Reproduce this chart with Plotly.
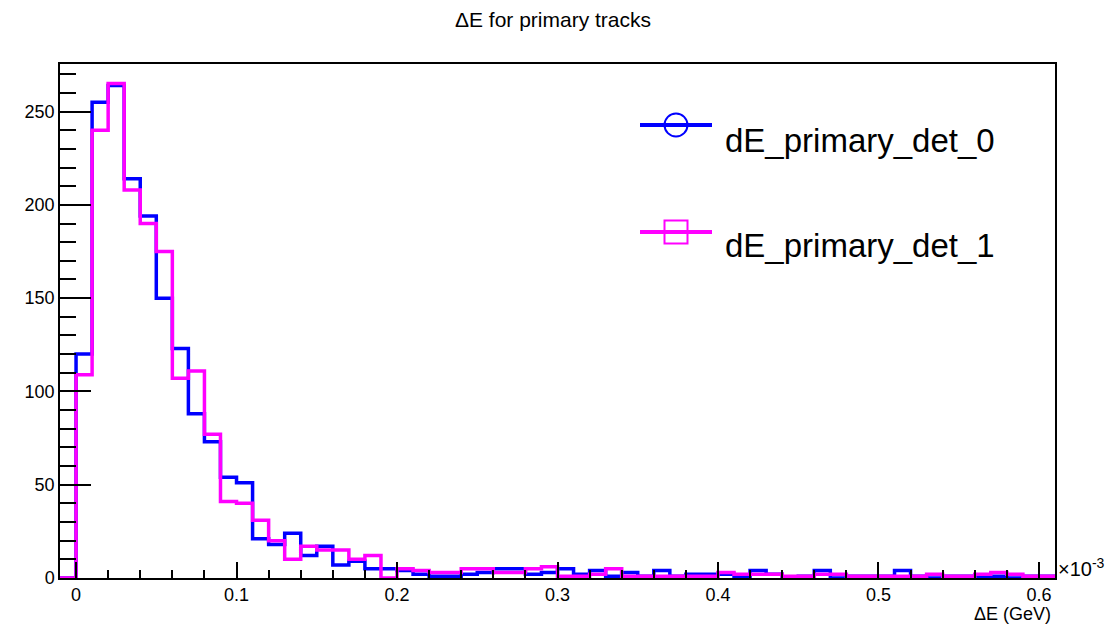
import plotly.graph_objects as go

# ---- data (bin contents, bins of width 0.01 starting at -0.01, units of 1e-3 GeV) ----
bin_start = -0.01
bin_width = 0.01

det0_counts = [0, 120, 255, 264, 214, 194, 150, 123, 88, 73,
               54, 51, 21, 18, 24, 12, 17, 7, 9, 5,
               5, 4, 2, 1, 1, 2, 3, 5, 5, 2,
               3, 5, 2, 4, 1, 3, 1, 4, 1, 2,
               2, 2, 1, 4, 2, 0, 1, 4, 0, 1,
               1, 1, 4, 1, 0, 1, 1, 1, 1, 0,
               1, 1]

det1_counts = [0, 109, 240, 265, 208, 190, 175, 107, 111, 77,
               41, 40, 31, 20, 10, 17, 15, 15, 10, 12,
               0, 5, 4, 3, 3, 5, 5, 3, 3, 5,
               6, 1, 1, 2, 5, 1, 1, 1, 1, 1,
               1, 3, 2, 2, 2, 1, 1, 2, 2, 1,
               1, 1, 1, 1, 2, 1, 1, 2, 3, 2,
               1, 1]

series_names = ["dE_primary_det_0", "dE_primary_det_1"]
series_colors = ["#0000ff", "#ff00ff"]

x_range = [-0.01, 0.61]
y_range = [0, 275.5]

n_bins = len(det0_counts)
edges = [round(bin_start + i * bin_width, 4) for i in range(n_bins + 1)]


def step_xy(counts):
    return edges[:], list(counts) + [counts[-1]]


W, H = 1113, 626
L, R, T, B = 60, 58, 64, 48
PW, PH = W - L - R, H - T - B

FONT = "Liberation Sans, Arial, Helvetica, sans-serif"

fig = go.Figure()
for counts, name, col in zip([det0_counts, det1_counts], series_names, series_colors):
    xs, ys = step_xy(counts)
    fig.add_trace(go.Scatter(x=xs, y=ys, mode="lines", line=dict(shape="hv", color=col, width=3.5),
                             name=name, showlegend=False))


def px(xp):
    return (xp - L) / PW


def py(yp):
    return (H - B - yp) / PH


shapes = []
annotations = []
# legend drawn manually (ROOT style)
leg = [
    (125, 140, "circle"),
    (232, 246, "square"),
]
for (ly, ty, sym), name, col in zip(leg, series_names, series_colors):
    shapes.append(dict(type="line", xref="paper", yref="paper", x0=px(640), x1=px(712),
                       y0=py(ly), y1=py(ly), line=dict(color=col, width=4)))
    r = 11.5
    cx = 676
    if sym == "circle":
        shapes.append(dict(type="circle", xref="paper", yref="paper", x0=px(cx - r), x1=px(cx + r),
                           y0=py(ly - r), y1=py(ly + r), line=dict(color=col, width=2),
                           fillcolor="rgba(0,0,0,0)"))
    else:
        shapes.append(dict(type="rect", xref="paper", yref="paper", x0=px(cx - r), x1=px(cx + r),
                           y0=py(ly - r), y1=py(ly + r), line=dict(color=col, width=2),
                           fillcolor="rgba(0,0,0,0)"))
    annotations.append(dict(text=name, xref="paper", yref="paper", x=px(723), y=py(ty),
                            xanchor="left", yanchor="middle", showarrow=False,
                            font=dict(family=FONT, size=33, color="black")))

annotations.append(dict(text="ΔE (GeV)", xref="paper", yref="paper", x=px(1053), y=py(614),
                        xanchor="right", yanchor="middle", showarrow=False,
                        font=dict(family=FONT, size=18, color="black")))
annotations.append(dict(text="×10<sup>-3</sup>", xref="paper", yref="paper", x=px(1056), y=py(567),
                        xanchor="left", yanchor="middle", showarrow=False,
                        font=dict(family=FONT, size=20, color="black")))

fig.update_layout(
    width=W, height=H,
    margin=dict(l=L, r=R, t=T, b=B),
    paper_bgcolor="white", plot_bgcolor="white",
    title=dict(text="ΔE for primary tracks", x=553 / W, xanchor="center", y=1 - 20 / H, yanchor="middle",
               font=dict(family=FONT, size=21, color="black")),
    shapes=shapes, annotations=annotations,
    xaxis=dict(range=x_range, showline=True, linecolor="black", linewidth=1.5, mirror=True,
               ticks="inside", ticklen=16, tickwidth=1.5, tickcolor="black",
               tick0=0, dtick=0.1, showgrid=False, zeroline=False,
               minor=dict(dtick=0.02, tick0=0, ticks="inside", ticklen=8, tickwidth=1.5, tickcolor="black", showgrid=False),
               tickfont=dict(family=FONT, size=18, color="black")),
    yaxis=dict(range=y_range, showline=True, linecolor="black", linewidth=1.5, mirror=True,
               ticks="inside", ticklen=31, tickwidth=1.5, tickcolor="black",
               tick0=0, dtick=50, showgrid=False, zeroline=False,
               minor=dict(dtick=10, tick0=0, ticks="inside", ticklen=16, tickwidth=1.5, tickcolor="black", showgrid=False),
               tickfont=dict(family=FONT, size=18, color="black")),
)

fig.write_html("out.html")
